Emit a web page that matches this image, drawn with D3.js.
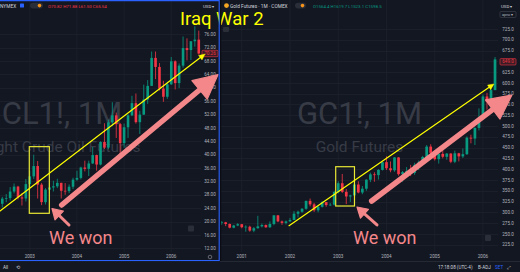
<!DOCTYPE html>
<meta charset="utf-8">
<style>
body { margin: 0; background: #131722; }
text { font-family: Roboto, "Liberation Sans", sans-serif; }
</style>
<svg width="520" height="272"></svg>
<script src="https://cdn.jsdelivr.net/npm/d3@7/dist/d3.min.js"></script>
<script>

// month index = months since Jan 2000
// CL1! monthly, May 2002 .. Aug 2006
var oilStart = 28;
var oilOpen = [27.29, 25.31, 26.86, 27.02, 28.98, 30.45, 27.22, 26.89,
  31.20, 33.51, 36.60, 31.04, 25.80, 29.56, 30.19, 30.54, 31.57, 29.20, 29.11, 30.41,
  32.52, 33.05, 36.16, 35.76, 37.38, 39.88, 37.05, 43.80, 42.12, 49.64, 51.76, 49.13,
  43.45, 48.20, 51.75, 55.40, 49.72, 51.97, 56.50, 60.57, 68.94, 66.24, 59.76, 57.32,
  61.04, 67.92, 61.41, 66.63, 71.88, 71.29, 73.93, 74.40];
var oilHigh = [29.36, 27.40, 28.20, 30.30, 31.38, 30.70, 28.50, 32.70,
  35.15, 39.99, 38.10, 31.50, 30.00, 31.50, 32.20, 32.80, 31.60, 31.50, 31.10, 33.10,
  35.20, 36.40, 38.20, 38.20, 42.30, 40.00, 44.00, 49.40, 50.50, 55.67, 52.60, 49.50,
  49.30, 52.10, 57.60, 58.30, 53.10, 60.95, 62.30, 70.85, 70.85, 67.40, 62.10, 61.80,
  69.20, 68.20, 67.30, 75.35, 74.80, 73.95, 78.40, 77.10];
var oilLow = [24.70, 24.20, 25.80, 26.30, 28.40, 26.60, 24.80, 26.00,
  30.20, 32.70, 26.90, 24.90, 25.10, 28.40, 29.00, 30.00, 26.90, 28.00, 28.50, 29.70,
  32.20, 32.60, 35.00, 33.60, 37.20, 35.20, 36.80, 41.70, 41.60, 48.50, 45.00, 40.20,
  42.10, 45.00, 51.50, 49.30, 46.20, 51.90, 55.20, 60.60, 62.60, 59.20, 55.80, 56.70,
  60.90, 59.50, 59.90, 66.00, 68.20, 68.30, 72.30, 69.90];
var oilClose = [25.31, 26.86, 27.02, 28.98, 30.45, 27.22, 26.89, 31.20,
  33.51, 36.60, 31.04, 25.80, 29.56, 30.19, 30.54, 31.57, 29.20, 29.11, 30.41, 32.52,
  33.05, 36.16, 35.76, 37.38, 39.88, 37.05, 43.80, 42.12, 49.64, 51.76, 49.13, 43.45,
  48.20, 51.75, 55.40, 49.72, 51.97, 56.50, 60.57, 68.94, 66.24, 59.76, 57.32, 61.04,
  67.92, 61.41, 66.63, 71.88, 71.29, 73.93, 74.40, 70.26];

// GC1! monthly, Jul 2000 .. Apr 2006
var goldStart = 6;
var goldOpen = [288.0, 276.0, 277.0, 273.0, 264.5, 269.5,
  272.5, 265.5, 266.7, 257.7, 263.2, 267.5, 270.6, 265.4, 273.0, 293.0, 279.0, 275.5,
  279.0, 282.3, 296.9, 301.4, 308.3, 326.6, 318.5, 304.7, 312.8, 323.7, 316.9, 317.7,
  347.2, 367.5, 347.5, 336.8, 339.3, 364.5, 346.0, 354.8, 375.6, 388.0, 386.3, 398.4,
  416.3, 402.2, 397.5, 427.3, 388.5, 393.3, 395.8, 391.4, 410.1, 415.7, 428.4, 452.4,
  438.0, 423.2, 435.5, 428.8, 436.3, 417.3, 436.9, 429.7, 434.8, 473.0, 471.0, 495.7,
  517.0, 568.6, 556.1, 583.4];
var goldHigh = [291, 280, 278, 274, 271, 275,
  273, 270, 269, 266, 292, 274, 272, 279, 294, 294, 281, 281,
  287, 303, 304, 310, 327, 332, 322, 315, 326, 324, 322, 350,
  372, 389, 354, 341, 370, 372, 361, 377, 392, 393, 400, 417,
  430, 418, 428, 428, 396, 405, 410, 415, 420, 431, 456, 458,
  438, 438, 447, 437, 437, 443, 438, 448, 476, 480, 497, 541,
  573, 577, 586, 660];
var goldLow = [273, 271, 268, 263, 263, 268,
  263, 255, 255, 254, 262, 265, 264, 264, 270, 277, 271, 272,
  278, 282, 288, 299, 306, 314, 301, 300, 311, 313, 315, 316,
  344, 345, 319, 324, 338, 344, 342, 350, 370, 371, 376, 397,
  398, 393, 394, 385, 371, 387, 384, 387, 398, 414, 426, 428,
  420, 413, 425, 422, 414, 414, 418, 426, 433, 460, 456, 490,
  517, 538, 538, 583];
var goldClose = [276.0, 277.0, 273.0, 264.5, 269.5, 272.5,
  265.5, 266.7, 257.7, 263.2, 267.5, 270.6, 265.4, 273.0, 293.0, 279.0, 275.5, 279.0,
  282.3, 296.9, 301.4, 308.3, 326.6, 318.5, 304.7, 312.8, 323.7, 316.9, 317.7, 347.2,
  367.5, 347.5, 336.8, 339.3, 364.5, 346.0, 354.8, 375.6, 388.0, 386.3, 398.4, 416.3,
  402.2, 397.5, 427.3, 388.5, 393.3, 395.8, 391.4, 410.1, 415.7, 428.4, 452.4, 438.0,
  423.2, 435.5, 428.8, 436.3, 417.3, 436.9, 429.7, 434.8, 473.0, 471.0, 495.7, 517.0,
  568.6, 556.1, 583.4, 654.5];

// axis ticks
var oilTicks = [12, 16, 20, 24, 28, 32, 36, 40, 44, 48, 52, 56, 60, 64, 68, 72, 76];
var goldTicks = [225, 250, 275, 300, 325, 350, 375, 400, 425, 450, 475, 500, 525,
  550, 575, 600, 625, 650, 675, 700, 725];
var oilYears = [2003, 2004, 2005, 2006];
var goldYears = [2001, 2002, 2003, 2004, 2005, 2006];
var oilLast = 70.26, goldLast = 649.0;

// drawings, as [month index, price]
var oilTrend = [[28.42, 23.15], [80.6, 70.1]];
var oilBox = [[35.87, 42.4], [40.97, 22.47]];
var oilBigArrow = [[44.12, 24.95], [83.9, 63.97]];
var oilSmallArrow = [[45.97, 18.97], [41.65, 23.9]];
var goldTrend = [[23.75, 269.0], [74.75, 597.5]];
var goldBox = [[35.37, 405.8], [40.04, 314.7]];
var goldBigArrow = [[44.32, 326.3], [79.2, 572]];
var goldSmallArrow = [[45.64, 270.7], [40.67, 312.4]];

var up = "#089981", down = "#f23645", pink = "#f4878a", yellow = "#ffff00";
var gridC = "#1e222d", axisC = "#b2b5be";

var svg = d3.select("svg");
svg.append("rect").attr("width", 520).attr("height", 272).attr("fill", "#131722");

var xOil = d3.scaleLinear().domain([36, 80]).range([29.8, 202.7]);
var yOil = d3.scaleLinear().domain([12, 76]).range([248.3, 34.3]);
var xGold = d3.scaleLinear().domain([24, 76]).range([290, 499.04]);
var yGold = d3.scaleLinear().domain([225, 725]).range([244.7, 29]);

var defs = svg.append("defs");
defs.append("clipPath").attr("id", "clipL").append("rect")
    .attr("x", 0).attr("y", 0).attr("width", 201.5).attr("height", 252);
defs.append("clipPath").attr("id", "clipR").append("rect")
    .attr("x", 221).attr("y", 20).attr("width", 277).attr("height", 232);
defs.append("clipPath").attr("id", "clipWL").append("rect")
    .attr("x", 0).attr("y", 0).attr("width", 219).attr("height", 260);

function pane(o) {
  var g = svg.append("g");
  // grid
  g.append("g").selectAll("line").data(o.ticks).join("line")
      .attr("x1", o.x0).attr("x2", o.x1)
      .attr("y1", function(d) { return Math.round(o.y(d)) + 0.5; })
      .attr("y2", function(d) { return Math.round(o.y(d)) + 0.5; })
      .attr("stroke", gridC).attr("stroke-width", 0.7);
  g.append("g").selectAll("line").data(o.years).join("line")
      .attr("x1", function(d) { return o.x((d - 2000) * 12); })
      .attr("x2", function(d) { return o.x((d - 2000) * 12); })
      .attr("y1", 0).attr("y2", 252)
      .attr("stroke", gridC).attr("stroke-width", 0.7);

  // watermark (the left pane is cropped in the screenshot)
  var wm = g.append("g").attr("clip-path", o.wclip ? "url(#" + o.wclip + ")" : null);
  wm.append("text").attr("x", o.wx).attr("y", 124).attr("text-anchor", "middle")
      .attr("font-size", 31).attr("fill", "#373b46").text(o.wm1);
  wm.append("text").attr("x", o.wx).attr("y", 152).attr("text-anchor", "middle")
      .attr("font-size", 15.5).attr("fill", "#373b46").text(o.wm2);

  // candles
  var c = g.append("g").attr("clip-path", "url(#" + o.clip + ")");
  var idx = d3.range(o.O.length);
  var col = function(i) { return o.C[i] >= o.O[i] ? up : down; };
  c.selectAll("line").data(idx).join("line")
      .attr("x1", function(i) { return o.x(o.start + i); })
      .attr("x2", function(i) { return o.x(o.start + i); })
      .attr("y1", function(i) { return o.y(o.H[i]); })
      .attr("y2", function(i) { return o.y(o.L[i]); })
      .attr("stroke", col).attr("stroke-width", 0.8);
  c.selectAll("rect").data(idx).join("rect")
      .attr("x", function(i) { return o.x(o.start + i) - o.bw / 2; })
      .attr("y", function(i) { return o.y(Math.max(o.O[i], o.C[i])); })
      .attr("width", o.bw)
      .attr("height", function(i) { return Math.max(0.7, Math.abs(o.y(o.O[i]) - o.y(o.C[i]))); })
      .attr("fill", col);

  // price axis
  g.append("g").selectAll("text").data(o.ticks).join("text")
      .attr("x", o.ax).attr("y", function(d) { return o.y(d) + 1.6; })
      .attr("text-anchor", "middle").attr("font-size", 4.6).attr("fill", axisC)
      .text(function(d) { return d3.format(o.fmt)(d); });
  // time axis
  g.append("g").selectAll("text").data(o.years).join("text")
      .attr("x", function(d) { return o.x((d - 2000) * 12); }).attr("y", 257.8)
      .attr("text-anchor", "middle").attr("font-size", 4.6).attr("fill", axisC)
      .text(function(d) { return d; });

  // last price label
  var ly = o.y(o.last);
  g.append("rect").attr("x", o.ax - 8).attr("y", ly - 3.2).attr("width", 16).attr("height", 6.4)
      .attr("rx", 1).attr("fill", "#3a1c24").attr("stroke", down).attr("stroke-width", 0.6);
  g.append("text").attr("x", o.ax).attr("y", ly + 1.6).attr("text-anchor", "middle")
      .attr("font-size", 4.6).attr("fill", down).text(d3.format(o.fmt)(o.last));
  return g;
}

pane({x: xOil, y: yOil, x0: 0, x1: 201, ticks: oilTicks, years: oilYears, clip: "clipL",
  start: oilStart, O: oilOpen, H: oilHigh, L: oilLow, C: oilClose, bw: 2.6, wclip: "clipWL",
  wx: 62, wm1: "CL1!, 1M", wm2: "Light Crude Oil Futures", ax: 210, fmt: ".2f", last: oilLast});
pane({x: xGold, y: yGold, x0: 221, x1: 498, ticks: goldTicks, years: goldYears, clip: "clipR",
  start: goldStart, O: goldOpen, H: goldHigh, L: goldLow, C: goldClose, bw: 2.7,
  wx: 359.5, wm1: "GC1!, 1M", wm2: "Gold Futures", ax: 508, fmt: ".1f", last: goldLast});

// arrow made of a shaft and a triangle head
function arrow(g, x, y, pts, color, lw, hl, hw) {
  var p0 = [x(pts[0][0]), y(pts[0][1])], p1 = [x(pts[1][0]), y(pts[1][1])];
  var dx = p1[0] - p0[0], dy = p1[1] - p0[1], len = Math.sqrt(dx * dx + dy * dy);
  var ux = dx / len, uy = dy / len;
  var bx = p1[0] - ux * hl, by = p1[1] - uy * hl;
  g.append("line").attr("x1", p0[0]).attr("y1", p0[1])
      .attr("x2", bx + ux * 1).attr("y2", by + uy * 1)
      .attr("stroke", color).attr("stroke-width", lw).attr("stroke-linecap", "round");
  g.append("path")
      .attr("d", "M" + p1 + "L" + [bx - uy * hw, by + ux * hw] + "L" + [bx + uy * hw, by - ux * hw] + "Z")
      .attr("fill", color).attr("stroke", color).attr("stroke-width", lw > 2 ? 1.2 : 0.4)
      .attr("stroke-linejoin", "round");
}

function drawings(x, y, trend, box, big, small) {
  var g = svg.append("g");
  g.append("rect")
      .attr("x", x(box[0][0])).attr("y", y(box[0][1]))
      .attr("width", x(box[1][0]) - x(box[0][0])).attr("height", y(box[1][1]) - y(box[0][1]))
      .attr("fill", "none").attr("stroke", "#e8e835").attr("stroke-width", 1.2);
  arrow(g, x, y, trend, yellow, 1.2, 6, 2.8);
  arrow(g, x, y, big, pink, 5.5, 24, 12);
  arrow(g, x, y, small, pink, 3, 10, 6);
}
drawings(xOil, yOil, oilTrend, oilBox, oilBigArrow, oilSmallArrow);
drawings(xGold, yGold, goldTrend, goldBox, goldBigArrow, goldSmallArrow);

// text on the picture
svg.append("text").attr("x", 49).attr("y", 243.5).attr("font-size", 18)
    .attr("font-family", "Liberation Sans, Arial, sans-serif").attr("fill", pink).text("We won");
svg.append("text").attr("x", 353).attr("y", 243.5).attr("font-size", 18)
    .attr("font-family", "Liberation Sans, Arial, sans-serif").attr("fill", pink).text("We won");
svg.append("text").attr("x", 180).attr("y", 25).attr("font-size", 18.5)
    .attr("font-family", "Liberation Sans, Arial, sans-serif").attr("fill", yellow).text("Iraq War 2");

// header rows
var hdr = svg.append("g").attr("font-size", 4.8);
hdr.append("text").attr("x", 0).attr("y", 8).attr("fill", "#d1d4dc").text("NYMEX");
hdr.append("rect").attr("x", 20).attr("y", 3.6).attr("width", 4).attr("height", 4).attr("rx", 0.6).attr("fill", "#2962ff");
hdr.append("rect").attr("x", 30).attr("y", 2.8).attr("width", 13).attr("height", 5.6).attr("rx", 2.8).attr("fill", "#2a2e39");
hdr.append("circle").attr("cx", 39.5).attr("cy", 5.6).attr("r", 1.8).attr("fill", "#f7931a");
hdr.append("text").attr("x", 48).attr("y", 8).attr("fill", down).attr("font-size", 4.4)
    .text("O70.82 H71.88 L61.50 C65.54");
hdr.append("text").attr("x", 203).attr("y", 8).attr("fill", "#d1d4dc").attr("font-size", 4.4).text("USD ▾");
hdr.append("circle").attr("cx", 226.5).attr("cy", 5.6).attr("r", 2.4).attr("fill", "#f5a623");
hdr.append("text").attr("x", 230).attr("y", 8).attr("fill", "#d1d4dc").text("Gold Futures · 1M · COMEX");
hdr.append("rect").attr("x", 295).attr("y", 2.8).attr("width", 11).attr("height", 5.6).attr("rx", 2.8).attr("fill", "#2a2e39");
hdr.append("circle").attr("cx", 302.5).attr("cy", 5.6).attr("r", 1.8).attr("fill", "#f7931a");
hdr.append("text").attr("x", 313).attr("y", 8).attr("fill", up).attr("font-size", 4.4)
    .text("O1564.4 H1619.7 L1523.1 C1598.5");
hdr.append("text").attr("x", 501).attr("y", 8).attr("fill", "#d1d4dc").attr("font-size", 4.4).text("USD ▾");
hdr.append("rect").attr("x", 500).attr("y", 11.5).attr("width", 16).attr("height", 6).attr("rx", 1)
    .attr("fill", "none").attr("stroke", "#434651").attr("stroke-width", 0.6);
hdr.append("text").attr("x", 502).attr("y", 16).attr("fill", "#b2b5be").attr("font-size", 3.8).text("apnc ▾");
hdr.append("rect").attr("x", 223).attr("y", 27).attr("width", 6).attr("height", 5).attr("rx", 1).attr("fill", "#2a2e39");

// small buttons
svg.append("rect").attr("x", 188).attr("y", 225.5).attr("width", 6).attr("height", 6).attr("rx", 1).attr("fill", "#2a2e39");
svg.append("rect").attr("x", 485).attr("y", 235).attr("width", 6).attr("height", 6).attr("rx", 1).attr("fill", "#2a2e39");
svg.append("circle").attr("cx", 210).attr("cy", 257).attr("r", 1.8).attr("fill", "none").attr("stroke", axisC).attr("stroke-width", 0.5);

// pane borders
svg.append("rect").attr("x", 219.6).attr("y", 0).attr("width", 1.6).attr("height", 261).attr("fill", "#0b0d13");
svg.append("path").attr("d", "M0,0.6H219.2V260.6H0").attr("fill", "none")
    .attr("stroke", "#2962ff").attr("stroke-width", 1.1);

// bottom toolbar
var bot = svg.append("g").attr("font-size", 4.6).attr("fill", "#d1d4dc");
bot.append("rect").attr("x", 0).attr("y", 261.3).attr("width", 520).attr("height", 10.7).attr("fill", "#131722");
bot.append("line").attr("x1", 220).attr("x2", 520).attr("y1", 261.5).attr("y2", 261.5).attr("stroke", "#2a2e39").attr("stroke-width", 0.8);
bot.append("text").attr("x", 3).attr("y", 269).text("All");
bot.append("text").attr("x", 16).attr("y", 269).text("⟲");
bot.append("text").attr("x", 438).attr("y", 269).text("17:18:08 (UTC-4)");
bot.append("text").attr("x", 478).attr("y", 269).text("B-ADJ");
bot.append("text").attr("x", 495).attr("y", 269).attr("fill", "#2962ff").text("SET");
bot.append("text").attr("x", 507).attr("y", 269).text("⤢");

</script>
